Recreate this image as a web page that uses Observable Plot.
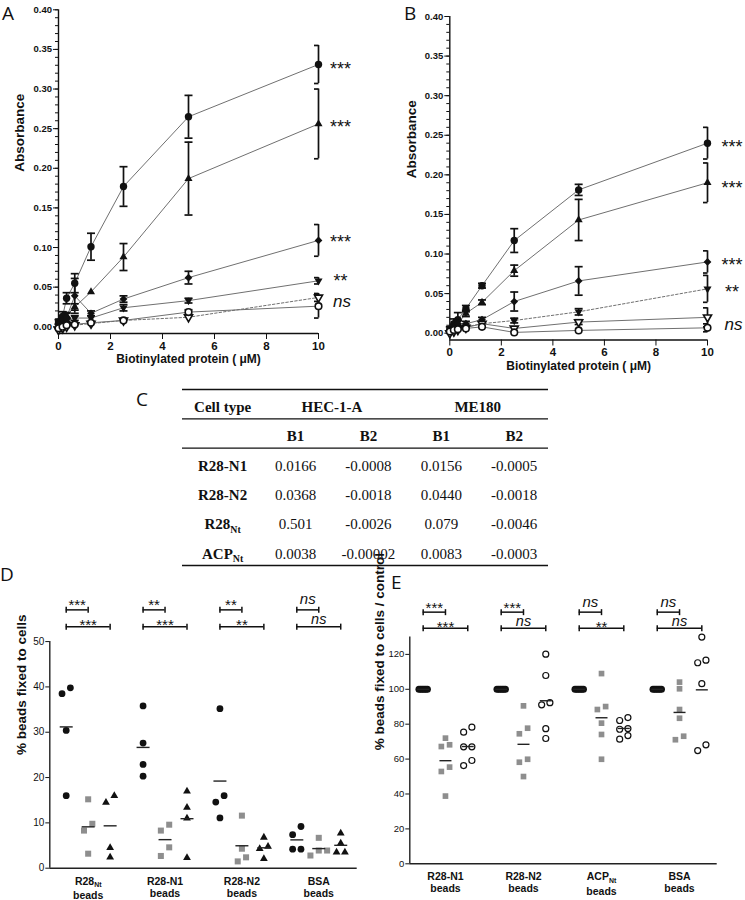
<!DOCTYPE html>
<html>
<head>
<meta charset="utf-8">
<script src="https://cdn.jsdelivr.net/npm/d3@7"></script>
<script src="https://cdn.jsdelivr.net/npm/@observablehq/plot@0.6"></script>
<style>
  body { margin: 0; background: #fff; }
  #wrap { position: relative; width: 745px; height: 900px; overflow: hidden; background: #fff; }
  .letter { position: absolute; font-family: "Open Sans", sans-serif; font-size: 19px; line-height: 15px; color: #111; }
</style>
</head>
<body>
<div id="wrap"></div>
<script>
// ---------------- DATA ----------------
// Panel A (HEC-1-A): absorbance vs biotinylated protein concentration
const concA = [0, 0.156, 0.3125, 0.625, 1.25, 2.5, 5, 10];
const aCircle      = [0.006, 0.013, 0.036, 0.055, 0.101, 0.177, 0.265, 0.331];
const aCircleErr   = [0.003, 0.006, 0.007, 0.012, 0.017, 0.025, 0.027, 0.024];
const aTriangle    = [0.002, 0.007, 0.014, 0.025, 0.044, 0.088, 0.187, 0.256];
const aTriangleErr = [0.002, 0.003, 0.004, 0.004, 0.002, 0.017, 0.046, 0.044];
const aDiamond     = [0.004, 0.009, 0.012, 0.039, 0.017, 0.035, 0.062, 0.109];
const aDiamondErr  = [0.002, 0.004, 0.005, 0.022, 0.003, 0.004, 0.008, 0.020];
const aDown        = [0.001, 0.004, 0.008, 0.011, 0.011, 0.024, 0.033, 0.058];
const aDownErr     = [0.002, 0.002, 0.003, 0.003, 0.002, 0.004, 0.003, 0.004];
const aDownOpen    = [-0.004, -0.002, 0.000, 0.002, 0.004, 0.008, 0.012, 0.037];
const aDownOpenErr = [0.002, 0.002, 0.002, 0.001, 0.001, 0.002, 0.002, 0.005];
const aOpen        = [-0.002, 0.000, 0.002, 0.003, 0.005, 0.008, 0.0185, 0.026];
const aOpenErr     = [0.002, 0.002, 0.001, 0.001, 0.001, 0.002, 0.003, 0.015];
const aSig  = ["***", "***", "***", "**", "ns"];
const aSigY = [0.331, 0.258, 0.113, 0.064, 0.030];

// Panel B (ME180)
const concB = [0, 0.156, 0.3125, 0.625, 1.25, 2.5, 5, 10];
const bCircle      = [0.005, 0.012, 0.017, 0.031, 0.060, 0.117, 0.181, 0.240];
const bCircleErr   = [0.003, 0.006, 0.009, 0.004, 0.003, 0.015, 0.007, 0.020];
const bTriangle    = [0.002, 0.006, 0.012, 0.025, 0.039, 0.079, 0.143, 0.190];
const bTriangleErr = [0.002, 0.003, 0.004, 0.004, 0.003, 0.007, 0.026, 0.025];
const bDiamond     = [0.003, 0.008, 0.012, 0.012, 0.017, 0.040, 0.066, 0.090];
const bDiamondErr  = [0.002, 0.003, 0.004, 0.003, 0.003, 0.012, 0.018, 0.014];
const bDown        = [0.001, 0.004, 0.006, 0.008, 0.012, 0.016, 0.027, 0.056];
const bDownErr     = [0.001, 0.002, 0.002, 0.002, 0.002, 0.003, 0.004, 0.017];
const bDownOpen    = [0.000, 0.002, 0.004, 0.007, 0.012, 0.006, 0.014, 0.020];
const bDownOpenErr = [0.001, 0.001, 0.002, 0.002, 0.002, 0.002, 0.003, 0.012];
const bOpen        = [0.002, 0.004, 0.005, 0.006, 0.008, 0.001, 0.0035, 0.0068];
const bOpenErr     = [0.001, 0.001, 0.001, 0.001, 0.001, 0.002, 0.002, 0.005];
const bSig  = ["***", "***", "***", "**", "ns"];
const bSigY = [0.241, 0.190, 0.092, 0.058, 0.010];

const absMajorTicks = [0, 0.05, 0.10, 0.15, 0.20, 0.25, 0.30, 0.35, 0.40];
const absMinorTicks = d3.range(0, 41).map(i => i / 100);
const absXTicks = [0, 2, 4, 6, 8, 10];
const absYTitle = "Absorbance";
const absXTitle = "Biotinylated protein ( μM)";

// Panel C table
const tableHeader = ["Cell type", "HEC-1-A", "ME180"];
const tableSub = ["B1", "B2", "B1", "B2"];
const rowNames = ["R28-N1", "R28-N2", "R28_Nt", "ACP_Nt"];
const hecB1 = ["0.0166", "0.0368", "0.501", "0.0038"];
const hecB2 = ["-0.0008", "-0.0018", "-0.0026", "-0.00002"];
const meB1  = ["0.0156", "0.0440", "0.079", "0.0083"];
const meB2  = ["-0.0005", "-0.0018", "-0.0046", "-0.0003"];

// Panel D: % beads fixed to cells
const groupsD = ["R28_Nt\nbeads", "R28-N1\nbeads", "R28-N2\nbeads", "BSA\nbeads"];
const dCircles   = [[38.5, 39.8, 30.4, 16.0], [35.8, 27.6, 22.9, 20.3], [35.2, 16.0, 14.6, 11.1], [9.2, 7.4, 4.2, 4.2]];
const dSquares   = [[15.2, 9.8, 8.3, 3.2], [9.6, 8.3, 4.6, 2.7], [11.6, 4.3, 2.4, 1.5], [6.7, 3.9, 3.9, 2.8]];
const dTriangles = [[14.5, 16.0, 4.5, 2.4], [17.0, 13.4, 11.0, 2.3], [6.8, 4.8, 4.3, 2.1], [7.7, 5.5, 3.5, 3.5]];
const dSigTop    = ["***", "**", "**", "ns"];
const dSigBottom = ["***", "***", "**", "ns"];
const dYTicks = [0, 10, 20, 30, 40, 50];
const dYTitle = "% beads fixed to cells";

// Panel E: % beads fixed to cells / control
const groupsE = ["R28-N1\nbeads", "R28-N2\nbeads", "ACP_Nt\nbeads", "BSA\nbeads"];
const eControl = [[100, 100, 100, 100, 100, 100], [100, 100, 100, 100, 100, 100], [100, 100, 100, 100, 100, 100], [100, 100, 100, 100, 100, 100]];
const eSquares = [[72.0, 67.2, 68.2, 55.4, 52.9, 38.8], [90.5, 77.7, 74.5, 59.9, 58.2, 50.0], [109.0, 90.1, 88.4, 80.6, 74.1, 59.9], [104.1, 100.3, 88.4, 83.4, 73.1, 71.1]];
const eOpen    = [[78.3, 75.4, 67.0, 67.0, 59.2, 56.3], [120.1, 107.9, 91.1, 92.3, 77.4, 71.8], [83.8, 82.1, 77.5, 77.1, 73.5, 71.4], [129.9, 116.7, 115.2, 103.2, 68.2, 64.9]];
const eSigTop    = ["***", "***", "ns", "ns"];
const eSigBottom = ["***", "ns", "**", "ns"];
const eYTicks = [0, 20, 40, 60, 80, 100, 120];
const eYTitle = "% beads fixed to cells / control";

// ---------------- HELPERS ----------------
const wrap = document.getElementById("wrap");
function put(node, left, top) {
  node.style.position = "absolute";
  node.style.left = left + "px";
  node.style.top = top + "px";
  wrap.appendChild(node);
}
const baseStyle = {fontFamily: "'Liberation Sans', Arial, sans-serif", fontSize: "10px", color: "#111", background: "transparent", overflow: "visible"};

const S3 = Math.sqrt(3);
const invTriangle = {draw(c, size) { const y = -Math.sqrt(size / (S3 * 3)); c.moveTo(0, -2 * y); c.lineTo(-S3 * y, y); c.lineTo(S3 * y, y); c.closePath(); }};
const diamondSym = {draw(c, size) { const r = Math.sqrt(size) * 0.62625; c.moveTo(0, -r); c.lineTo(r, 0); c.lineTo(0, r); c.lineTo(-r, 0); c.closePath(); }};
const hBar = {draw(c, size) { const r = Math.sqrt(size / Math.PI); c.moveTo(-r, 0); c.lineTo(r, 0); }};
const hBarLeft = {draw(c, size) { const r = Math.sqrt(size / Math.PI); c.moveTo(-r, 0); c.lineTo(0, 0); }};
const vBar = {draw(c, size) { const r = Math.sqrt(size / Math.PI); c.moveTo(0, -r); c.lineTo(0, r); }};

const absStyles = {
  circle:   {symbol: "circle", fill: "#111", r: 3.7},
  triangle: {symbol: "triangle", fill: "#111", r: 3.0},
  diamond:  {symbol: diamondSym, fill: "#111", r: 3.5},
  down:     {symbol: invTriangle, fill: "#111", r: 3.0},
  downOpen: {symbol: invTriangle, fill: "white", stroke: "#111", strokeWidth: 1.6, r: 3.0},
  open:     {symbol: "circle", fill: "white", stroke: "#111", strokeWidth: 1.6, r: 3.3}
};

function absorbance(c) {
  const rows = [];
  c.series.forEach(s => c.conc.forEach((x, i) => rows.push({key: s.key, x, y: s.vals[i], e: s.errs[i]})));
  const xMax = d3.max(c.conc);
  const errRows = rows.filter(d => d.e >= 0.0025);
  const marks = [
    Plot.ruleX([0], {y1: c.yMin, y2: 0.4, stroke: "#111", strokeWidth: 1.4}),
    Plot.ruleY([c.yMin], {stroke: "#111", strokeWidth: 1.4}),
    Plot.axisY(absMinorTicks, {tickSize: 3, tickFormat: () => "", label: null}),
    Plot.axisY(absMajorTicks, {tickSize: 5, tickPadding: 1.5, tickFormat: d3.format(".2f"), fontSize: 9.5, fontWeight: "bold", label: null}),
    Plot.axisX(absXTicks, {tickSize: 6, tickPadding: 2, fontSize: 11.5, fontWeight: "bold", label: null}),
    Plot.text([absYTitle], {frameAnchor: "left", rotate: -90, dx: c.yTitleDx, fontSize: 13.5, fontWeight: "bold"}),
    Plot.text([absXTitle], {frameAnchor: "bottom", dy: c.xTitleDy, fontSize: 12, fontWeight: "bold"})
  ];
  for (const s of c.series) {
    marks.push(Plot.line(rows.filter(d => d.key === s.key), {x: "x", y: "y", stroke: "#707070", strokeWidth: 1, strokeDasharray: s.key === c.dashed ? "2.5,2" : null}));
  }
  marks.push(Plot.ruleX(errRows, {x: "x", y1: d => d.y - d.e, y2: d => d.y + d.e, stroke: "#111", strokeWidth: 1.7}));
  for (const end of [1, -1]) {
    marks.push(Plot.dot(errRows.filter(d => d.x < xMax), {x: "x", y: d => d.y + end * d.e, symbol: hBar, r: 4, stroke: "#111", strokeWidth: 1.7, fill: "none"}));
    marks.push(Plot.dot(errRows.filter(d => d.x === xMax), {x: "x", y: d => d.y + end * d.e, symbol: hBarLeft, r: 4.5, stroke: "#111", strokeWidth: 1.7, fill: "none"}));
  }
  for (const s of c.series) {
    marks.push(Plot.dot(rows.filter(d => d.key === s.key), {x: "x", y: "y", ...absStyles[s.key]}));
  }
  const sigRows = c.sig.map((l, i) => ({x: xMax, y: c.sigY[i], l}));
  marks.push(Plot.text(sigRows.filter(d => d.l !== "ns"), {x: "x", y: "y", text: "l", dx: c.sigDx, dy: 5, fontSize: 18}));
  marks.push(Plot.text(sigRows.filter(d => d.l === "ns"), {x: "x", y: "y", text: "l", dx: c.sigDx + 1.5, dy: -1, fontSize: 17, fontStyle: "italic"}));
  return Plot.plot({
    width: c.width, height: c.height,
    marginLeft: c.ml, marginRight: c.mr, marginTop: c.mt, marginBottom: c.mb,
    x: {domain: [0, xMax]}, y: {domain: [c.yMin, 0.4]},
    style: baseStyle, marks
  });
}

function dodge(vals, thr, step, maxSpread) {
  const idx = vals.map((v, i) => i).sort((a, b) => vals[a] - vals[b]);
  const off = vals.map(() => 0);
  let cluster = [idx[0]];
  const flush = () => {
    const n = cluster.length;
    if (n > 1) {
      const s = Math.min(step, maxSpread / (n - 1));
      cluster.forEach((j, k) => off[j] = (k - (n - 1) / 2) * s);
    }
  };
  for (let k = 1; k < idx.length; k++) {
    if (vals[idx[k]] - vals[idx[k - 1]] < thr) cluster.push(idx[k]);
    else { flush(); cluster = [idx[k]]; }
  }
  flush();
  return off;
}

const GROUP_STEP = 3.5;
function scatter(c) {
  const pts = [], means = [];
  c.cols.forEach((col, s) => col.vals.forEach((arr, g) => {
    const off = dodge(arr, c.dodge[0], c.dodge[1], c.dodge[2]);
    arr.forEach((v, i) => pts.push({s, x: g * GROUP_STEP + s + off[i], y: v}));
    means.push({s, x: g * GROUP_STEP + s, y: d3.mean(arr)});
  }));
  const centers = c.groups.map((_, g) => g * GROUP_STEP + 1);
  const brackets = [];
  c.groups.forEach((_, g) => {
    brackets.push({x1: g * GROUP_STEP, x2: g * GROUP_STEP + 1, y: c.levels[0], l: c.sigTop[g], row: 0});
    brackets.push({x1: g * GROUP_STEP, x2: g * GROUP_STEP + 2, y: c.levels[1], l: c.sigBottom[g], row: 1});
  });
  const marks = [
    Plot.ruleY([0], {stroke: "#222", strokeWidth: 1.4}),
    Plot.ruleX([c.xDomain[0]], {y1: 0, y2: c.axisTop, stroke: "#222", strokeWidth: 1.4}),
    Plot.axisY(c.yTicks, {tickSize: 4, tickPadding: 1.5, fontSize: c.tickFont, label: null}),
    Plot.axisX(centers, {tickSize: 0, tickPadding: c.catPad, tickFormat: d => c.groups[centers.indexOf(d)], fontSize: 10.5, fontWeight: "bold", lineHeight: 1.15, label: null}),
    Plot.text([{y: c.axisTop / 2, t: c.yTitle}], {y: "y", text: "t", frameAnchor: "left", rotate: -90, dx: c.yTitleDx, fontSize: 13.5, fontWeight: "bold"})
  ];
  c.cols.forEach((col, s) => marks.push(Plot.dot(pts.filter(d => d.s === s), {x: "x", y: "y", ...col.style})));
  marks.push(Plot.dot(means, {x: "x", y: "y", symbol: hBar, r: c.meanR, stroke: "#222", strokeWidth: 1.4, fill: "none"}));
  marks.push(Plot.ruleY(brackets, {y: "y", x1: "x1", x2: "x2", stroke: "#111", strokeWidth: 1.5}));
  marks.push(Plot.dot(brackets, {x: "x1", y: "y", symbol: vBar, r: 3, stroke: "#111", strokeWidth: 1.5, fill: "none"}));
  marks.push(Plot.dot(brackets, {x: "x2", y: "y", symbol: vBar, r: 3, stroke: "#111", strokeWidth: 1.5, fill: "none"}));
  const lab = (row, ns) => brackets.filter(b => b.row === row && (b.l === "ns") === ns);
  const mid = d => (d.x1 + d.x2) / 2;
  marks.push(Plot.text(lab(0, false), {x: mid, y: "y", text: "l", lineAnchor: "bottom", dy: 0.5, fontSize: 15}));
  marks.push(Plot.text(lab(1, false), {x: mid, y: "y", text: "l", lineAnchor: "bottom", dy: 3.5, fontSize: 15}));
  marks.push(Plot.text(lab(0, true), {x: mid, y: "y", text: "l", lineAnchor: "bottom", dy: -5.5, fontSize: 15, fontStyle: "italic"}));
  marks.push(Plot.text(lab(1, true), {x: mid, y: "y", text: "l", lineAnchor: "bottom", dy: -2.6, fontSize: 14.5, fontStyle: "italic"}));
  return Plot.plot({
    width: c.width, height: c.height,
    marginLeft: c.ml, marginRight: c.mr, marginTop: c.mt, marginBottom: c.mb,
    x: {domain: c.xDomain}, y: {domain: [0, c.yTop]},
    style: baseStyle, marks
  });
}

function subscripts(root) {
  const walker = document.createTreeWalker(root, NodeFilter.SHOW_TEXT);
  const nodes = [];
  while (walker.nextNode()) if (walker.currentNode.nodeValue.includes("_")) nodes.push(walker.currentNode);
  for (const n of nodes) {
    const [base, sub] = n.nodeValue.split("_");
    const parent = n.parentNode;
    const t = document.createElementNS("http://www.w3.org/2000/svg", "tspan");
    t.style.fontSize = "0.66em";
    t.setAttribute("dy", "0.35em");
    t.textContent = sub;
    parent.insertBefore(document.createTextNode(base), n);
    parent.insertBefore(t, n);
    parent.removeChild(n);
  }
}

// ---------------- PANEL A ----------------
const plotA = absorbance({
  conc: concA,
  series: [
    {key: "circle", vals: aCircle, errs: aCircleErr},
    {key: "triangle", vals: aTriangle, errs: aTriangleErr},
    {key: "diamond", vals: aDiamond, errs: aDiamondErr},
    {key: "down", vals: aDown, errs: aDownErr},
    {key: "downOpen", vals: aDownOpen, errs: aDownOpenErr},
    {key: "open", vals: aOpen, errs: aOpenErr}
  ],
  dashed: "downOpen", sig: aSig, sigY: aSigY, sigDx: 22,
  yMin: -0.0085, width: 370, height: 375, ml: 58, mr: 52, mt: 9.3, mb: 42,
  yTitleDx: -39, xTitleDy: 29.7
});
put(plotA, 0, 0);

// ---------------- PANEL B ----------------
const plotB = absorbance({
  conc: concB,
  series: [
    {key: "circle", vals: bCircle, errs: bCircleErr},
    {key: "triangle", vals: bTriangle, errs: bTriangleErr},
    {key: "diamond", vals: bDiamond, errs: bDiamondErr},
    {key: "down", vals: bDown, errs: bDownErr},
    {key: "downOpen", vals: bDownOpen, errs: bDownOpenErr},
    {key: "open", vals: bOpen, errs: bOpenErr}
  ],
  dashed: "down", sig: bSig, sigY: bSigY, sigDx: 24.5,
  yMin: -0.0086, width: 375, height: 378, ml: 79.3, mr: 38, mt: 16, mb: 38.5,
  yTitleDx: -38.6, xTitleDy: 29.5
});
put(plotB, 370, 0);

// ---------------- PANEL C (table) ----------------
const cells = [];
cells.push({c: 0, r: 0, t: tableHeader[0], b: true});
cells.push({c: 1.5, r: 0, t: tableHeader[1], b: true});
cells.push({c: 3.5, r: 0, t: tableHeader[2], b: true});
tableSub.forEach((t, i) => cells.push({c: i + 1, r: 1, t, b: true}));
rowNames.forEach((t, i) => {
  cells.push({c: 0, r: i + 2, t, b: true});
  cells.push({c: 1, r: i + 2, t: hecB1[i], b: false});
  cells.push({c: 2, r: i + 2, t: hecB2[i], b: false});
  cells.push({c: 3, r: i + 2, t: meB1[i], b: false});
  cells.push({c: 4, r: i + 2, t: meB2[i], b: false});
});
const lastRow = rowNames.length + 1;
const tableRules = [-0.6, 0.4, 1.4, lastRow + 0.4];
const plotC = Plot.plot({
  width: 745, height: 195, marginLeft: 182, marginRight: 197, marginTop: 9, marginBottom: 10,
  x: {domain: [-0.55, 4.47], axis: null},
  y: {domain: [-0.6, lastRow + 0.4], reverse: true, axis: null},
  style: {...baseStyle, fontFamily: "'Liberation Serif', 'Times New Roman', serif"},
  marks: [
    Plot.ruleY(tableRules, {stroke: "#111", strokeWidth: 1.3}),
    Plot.text(cells.filter(d => d.b), {x: "c", y: "r", text: "t", fontSize: 15, fontWeight: "bold", fontFamily: "'Liberation Serif', serif"}),
    Plot.text(cells.filter(d => !d.b), {x: "c", y: "r", text: "t", fontSize: 15, fontFamily: "'Liberation Serif', serif"})
  ]
});
put(plotC, 0, 380);

// ---------------- PANEL D ----------------
const plotD = scatter({
  groups: groupsD,
  cols: [
    {vals: dCircles, style: {symbol: "circle", fill: "#111", r: 3.4}},
    {vals: dSquares, style: {symbol: "square", fill: "#8e8e8e", r: 3.4}},
    {vals: dTriangles, style: {symbol: "triangle", fill: "#111", r: 2.9}}
  ],
  sigTop: dSigTop, sigBottom: dSigBottom, levels: [57.0, 53.3],
  dodge: [1.9, 0.38, 0.8],
  yTicks: dYTicks, axisTop: 50, yTop: 62, tickFont: 10, yTitle: dYTitle, yTitleDx: -28.6,
  xDomain: [-0.747, 13.25], meanR: 6.5, catPad: 8,
  width: 370, height: 320, ml: 49.3, mr: 13.3, mt: 6.7, mb: 32.3
});
put(plotD, 0, 580);

// ---------------- PANEL E ----------------
const plotE = scatter({
  groups: groupsE,
  cols: [
    {vals: eControl, style: {symbol: "circle", fill: "#111", r: 3.5}},
    {vals: eSquares, style: {symbol: "square", fill: "#8e8e8e", r: 3.2}},
    {vals: eOpen, style: {symbol: "circle", fill: "white", stroke: "#111", strokeWidth: 1.2, r: 3.0}}
  ],
  sigTop: eSigTop, sigBottom: eSigBottom, levels: [144.2, 135.0],
  dodge: [3.5, 0.37, 0.38],
  yTicks: eYTicks, axisTop: 130, yTop: 155, tickFont: 9.5, yTitle: eYTitle, yTitleDx: -30,
  xDomain: [-0.6, 13.19], meanR: 6, catPad: 8,
  width: 375, height: 320, ml: 39.3, mr: 28.3, mt: 12.8, mb: 36.7
});
put(plotE, 370, 580);

[plotA, plotB, plotC, plotD, plotE].forEach(subscripts);

// ---------------- PANEL LETTERS ----------------
const letters = [["A", 2, 21], ["B", 404, 21], ["C", 136, 407], ["D", 0, 582], ["E", 391, 590]];
for (const [t, x, base] of letters) {
  const d = document.createElement("div");
  d.className = "letter";
  d.textContent = t;
  d.style.left = x + "px";
  d.style.top = (base - 14.8) + "px";
  wrap.appendChild(d);
}
</script>
</body>
</html>
